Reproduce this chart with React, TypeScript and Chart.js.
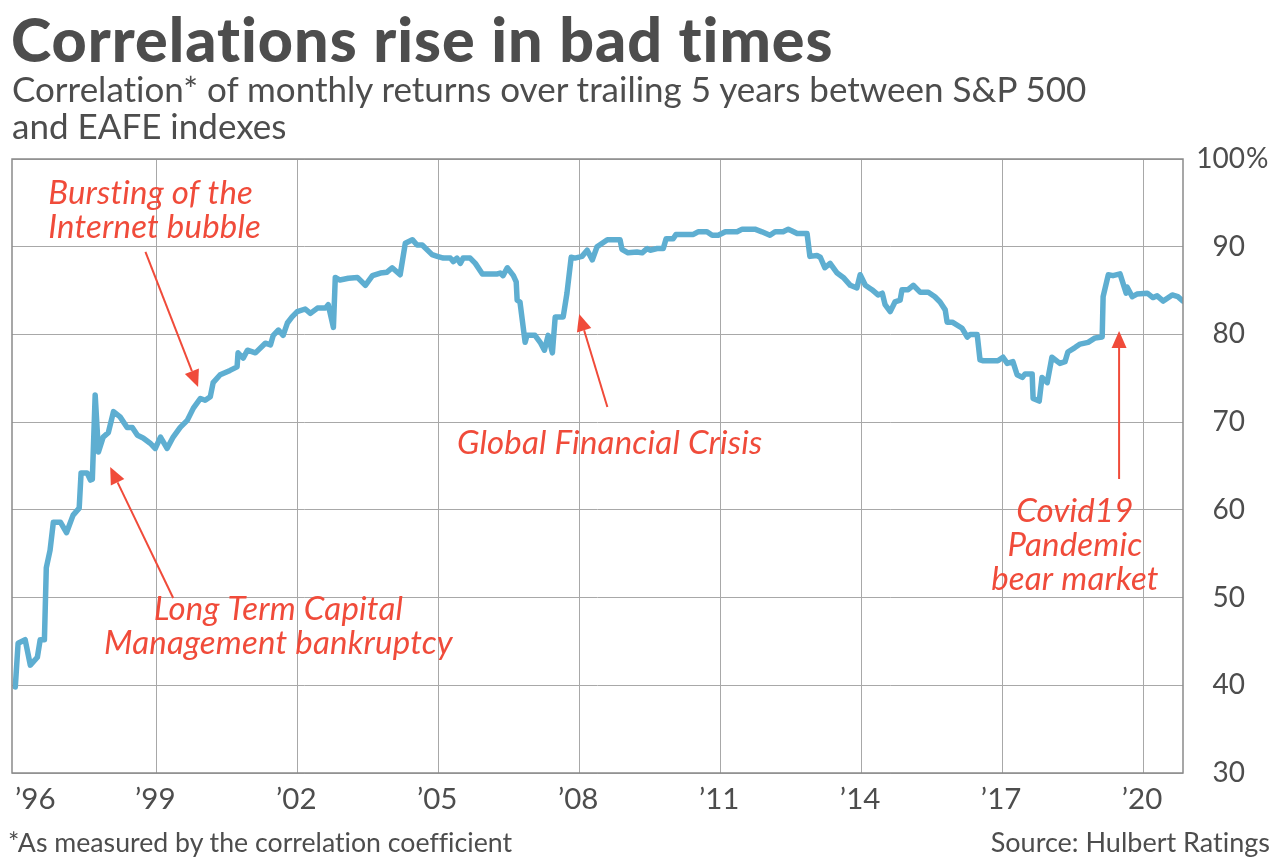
import React, { useEffect, useRef } from "react";
import { Chart, registerables } from "chart.js";
Chart.register(...registerables);

// ---- Data (decimal year, correlation in %) ----
const years = [
  1996.0, 1996.06, 1996.21, 1996.32, 1996.47, 1996.53, 1996.62, 1996.66, 1996.74, 1996.81,
  1996.96, 1997.09, 1997.23, 1997.36, 1997.4, 1997.53, 1997.6, 1997.64, 1997.7, 1997.77,
  1997.87, 1997.98, 1998.09, 1998.23, 1998.38, 1998.49, 1998.6, 1998.72, 1998.87, 1998.98,
  1999.09, 1999.23, 1999.36, 1999.51, 1999.66, 1999.79, 1999.94, 2000.04, 2000.15, 2000.21,
  2000.36, 2000.57, 2000.72, 2000.74, 2000.85, 2000.94, 2001.11, 2001.32, 2001.43, 2001.49,
  2001.6, 2001.7, 2001.79, 2001.89, 2002.0, 2002.17, 2002.28, 2002.43, 2002.6, 2002.66,
  2002.77, 2002.81, 2002.91, 2003.09, 2003.28, 2003.45, 2003.6, 2003.77, 2003.91, 2004.02,
  2004.19, 2004.3, 2004.45, 2004.55, 2004.66, 2004.87, 2004.98, 2005.11, 2005.26, 2005.32,
  2005.4, 2005.47, 2005.53, 2005.68, 2005.79, 2005.94, 2006.26, 2006.32, 2006.38, 2006.47,
  2006.6, 2006.66, 2006.68, 2006.74, 2006.85, 2006.89, 2007.06, 2007.17, 2007.26, 2007.34,
  2007.43, 2007.49, 2007.66, 2007.74, 2007.83, 2007.91, 2008.06, 2008.17, 2008.28, 2008.38,
  2008.49, 2008.6, 2008.87, 2008.91, 2009.04, 2009.23, 2009.34, 2009.45, 2009.51, 2009.66,
  2009.79, 2009.85, 2010.0, 2010.06, 2010.43, 2010.53, 2010.72, 2010.83, 2010.96, 2011.11,
  2011.36, 2011.47, 2011.74, 2011.89, 2012.06, 2012.17, 2012.34, 2012.45, 2012.53, 2012.64,
  2012.85, 2012.91, 2013.06, 2013.13, 2013.23, 2013.34, 2013.49, 2013.62, 2013.77, 2013.91,
  2013.98, 2014.09, 2014.23, 2014.36, 2014.45, 2014.51, 2014.62, 2014.72, 2014.83, 2014.87,
  2015.0, 2015.11, 2015.26, 2015.43, 2015.57, 2015.68, 2015.79, 2015.83, 2015.94, 2016.15,
  2016.26, 2016.32, 2016.47, 2016.53, 2016.6, 2016.91, 2017.02, 2017.11, 2017.23, 2017.32,
  2017.43, 2017.49, 2017.64, 2017.66, 2017.79, 2017.85, 2017.96, 2018.06, 2018.23, 2018.34,
  2018.4, 2018.55, 2018.66, 2018.83, 2018.98, 2019.13, 2019.15, 2019.26, 2019.36, 2019.51,
  2019.64, 2019.66, 2019.77, 2019.87, 2020.09, 2020.21, 2020.3, 2020.43, 2020.62, 2020.74,
  2020.85,
];

const correlation = [
  39.8, 44.8, 45.2, 42.3, 43.2, 45.2, 45.2, 53.4, 55.4, 58.6,
  58.6, 57.4, 59.4, 60.2, 64.2, 64.2, 63.4, 63.5, 73.1, 66.6,
  68.3, 68.8, 71.2, 70.6, 69.4, 69.4, 68.5, 68.2, 67.6, 67.0,
  68.3, 67.0, 68.3, 69.4, 70.2, 71.6, 72.7, 72.5, 72.9, 74.5,
  75.4, 75.9, 76.3, 77.9, 77.3, 78.2, 77.9, 79.0, 78.8, 79.9,
  80.5, 79.9, 81.3, 82.0, 82.6, 82.9, 82.4, 83.0, 83.0, 83.4,
  80.8, 86.5, 86.2, 86.4, 86.5, 85.6, 86.7, 87.0, 87.1, 87.6,
  86.8, 90.4, 90.8, 90.2, 90.2, 89.1, 88.9, 88.7, 88.7, 88.3,
  88.7, 88.1, 88.7, 88.7, 88.1, 86.9, 86.9, 87.0, 86.7, 87.6,
  86.7, 86.0, 83.9, 83.7, 79.1, 79.9, 79.9, 79.1, 78.2, 79.9,
  77.9, 82.0, 82.0, 84.7, 88.8, 88.7, 88.9, 89.6, 88.5, 90.0,
  90.4, 90.8, 90.8, 89.7, 89.3, 89.4, 89.3, 89.8, 89.6, 89.8,
  89.8, 90.9, 90.9, 91.4, 91.4, 91.7, 91.7, 91.3, 91.3, 91.7,
  91.7, 92.0, 92.0, 91.7, 91.3, 91.7, 91.7, 92.0, 91.8, 91.5,
  91.5, 88.9, 89.0, 88.8, 87.6, 88.1, 87.0, 86.5, 85.6, 85.3,
  86.8, 85.6, 85.1, 84.5, 84.7, 83.4, 82.6, 83.7, 83.9, 85.1,
  85.1, 85.6, 84.8, 84.8, 84.3, 83.7, 82.8, 81.4, 81.4, 80.7,
  79.7, 80.0, 80.0, 77.1, 77.0, 77.0, 77.4, 76.7, 76.9, 75.4,
  75.1, 75.5, 75.5, 72.7, 72.4, 75.1, 74.5, 77.4, 76.7, 76.9,
  78.0, 78.5, 78.9, 79.1, 79.6, 79.7, 84.3, 86.8, 86.7, 86.9,
  84.7, 85.4, 84.3, 84.6, 84.7, 84.2, 84.4, 83.8, 84.5, 84.3,
  83.8,
];

const xTickYears = [1996, 1999, 2002, 2005, 2008, 2011, 2014, 2017, 2020];
const xTickLabels = ["\u201996", "\u201999", "\u201902", "\u201905", "\u201908", "\u201911", "\u201914", "\u201917", "\u201920"];
const yTickValues = [30, 40, 50, 60, 70, 80, 90, 100];
const yTickLabels = ["30", "40", "50", "60", "70", "80", "90", "100"];

// Annotations in data coordinates
const annotationTexts = [
  ["Bursting of the", "Internet bubble"],
  ["Long Term Capital", "Management bankruptcy"],
  ["Global Financial Crisis"],
  ["Covid19", "Pandemic", "bear market"],
];
const annotationAnchors = [
  { x: 1996.7, y: 94.87, align: "left" },
  { x: 2001.6, y: 47.44, align: "center" },
  { x: 2008.65, y: 66.37, align: "center" },
  { x: 2018.55, y: 58.61, align: "center" },
];
const arrowFrom = [
  [1998.77, 89.4],
  [1999.36, 49.95],
  [2008.6, 71.72],
  [2019.49, 63.52],
];
const arrowTo = [
  [1999.89, 74.0],
  [1998.02, 64.88],
  [2008.0, 82.33],
  [2019.49, 80.39],
];

const TEXT = "#4d4d4d";
const RED = "#f04b3a";
const LINE = "#5eaed1";
const GRID = "#a8a8a8";
const FRAME = "#8a8a8a";

const overlayPlugin = {
  id: "overlay",
  afterDraw(chart: any) {
    const { ctx, chartArea } = chart;
    const xs = chart.scales.x;
    const ys = chart.scales.y;
    ctx.save();
    // frame
    ctx.strokeStyle = FRAME;
    ctx.lineWidth = 1.5;
    ctx.strokeRect(chartArea.left, chartArea.top, chartArea.right - chartArea.left, chartArea.bottom - chartArea.top);

    // y labels
    ctx.fillStyle = TEXT;
    ctx.font = "28px Lato";
    ctx.textBaseline = "middle";
    yTickValues.forEach((v, i) => {
      const py = ys.getPixelForValue(v);
      ctx.textAlign = "right";
      ctx.fillText(yTickLabels[i], 1245, py);
      if (v === 100) {
        ctx.textAlign = "left";
        ctx.fillText("%", 1246, py);
      }
    });

    // x labels
    ctx.font = "29.5px Lato";
    ctx.textBaseline = "alphabetic";
    xTickYears.forEach((v, i) => {
      const px = xs.getPixelForValue(v);
      if (i === 0) {
        ctx.textAlign = "left";
        ctx.fillText(xTickLabels[i], 15, 809);
      } else {
        ctx.textAlign = "center";
        ctx.fillText(xTickLabels[i], px - 1, 809);
      }
    });

    // annotations
    ctx.fillStyle = RED;
    ctx.strokeStyle = RED;
    ctx.font = "italic 33px Lato";
    try {
      (ctx as any).letterSpacing = "0.2px";
    } catch (e) {}
    annotationTexts.forEach((lines, i) => {
      const a = annotationAnchors[i];
      const px = xs.getPixelForValue(a.x);
      const py = ys.getPixelForValue(a.y);
      ctx.textAlign = a.align as CanvasTextAlign;
      lines.forEach((t, j) => ctx.fillText(t, px, py + j * 34));

      const x1 = xs.getPixelForValue(arrowFrom[i][0]);
      const y1 = ys.getPixelForValue(arrowFrom[i][1]);
      const x2 = xs.getPixelForValue(arrowTo[i][0]);
      const y2 = ys.getPixelForValue(arrowTo[i][1]);
      const ang = Math.atan2(y2 - y1, x2 - x1);
      const headLen = 17;
      const headHalf = 7.5;
      const bx = x2 - headLen * Math.cos(ang);
      const by = y2 - headLen * Math.sin(ang);
      ctx.lineWidth = 2;
      ctx.beginPath();
      ctx.moveTo(x1, y1);
      ctx.lineTo(bx, by);
      ctx.stroke();
      ctx.beginPath();
      ctx.moveTo(x2, y2);
      ctx.lineTo(bx + headHalf * Math.sin(ang), by - headHalf * Math.cos(ang));
      ctx.lineTo(bx - headHalf * Math.sin(ang), by + headHalf * Math.cos(ang));
      ctx.closePath();
      ctx.fill();
    });
    ctx.restore();
  },
};

export default function App() {
  const ref = useRef<HTMLCanvasElement | null>(null);
  useEffect(() => {
    document.body.style.margin = "0";
    if (!ref.current) return;
    const chart = new Chart(ref.current, {
      type: "line",
      data: {
        datasets: [
          {
            data: years.map((y, i) => ({ x: y, y: correlation[i] })),
            borderColor: LINE,
            borderWidth: 5.5,
            pointRadius: 0,
            tension: 0,
            borderJoinStyle: "round",
            borderCapStyle: "round",
            fill: false,
          },
        ],
      },
      options: {
        responsive: false,
        animation: false,
        events: [],
        layout: { padding: { left: 12, right: 97, top: 159, bottom: 89 } },
        plugins: { legend: { display: false }, tooltip: { enabled: false }, title: { display: false } },
        scales: {
          x: {
            type: "linear",
            min: 1995.93,
            max: 2020.85,
            afterBuildTicks: (s: any) => {
              s.ticks = xTickYears.map((v) => ({ value: v }));
            },
            ticks: { display: false },
            grid: {
              drawTicks: false,
              color: (c: any) => (c.tick && c.tick.value === 1996 ? "rgba(0,0,0,0)" : GRID),
              lineWidth: 1,
            },
            border: { display: false },
          },
          y: {
            position: "right",
            min: 30,
            max: 100,
            afterBuildTicks: (s: any) => {
              s.ticks = yTickValues.map((v) => ({ value: v }));
            },
            ticks: { display: false },
            grid: { drawTicks: false, color: GRID, lineWidth: 1 },
            border: { display: false },
          },
        },
      },
      plugins: [overlayPlugin],
    } as any);
    return () => chart.destroy();
  }, []);

  return (
    <div style={{ position: "absolute", left: 0, top: 0, width: 1280, height: 862, background: "#fff", fontFamily: "Lato, sans-serif", color: TEXT, fontVariantLigatures: "none" }}>
      <canvas ref={ref} width={1280} height={862} style={{ position: "absolute", left: 0, top: 0 }} />
      <div style={{ position: "absolute", left: 11, top: 2, fontSize: 61, fontWeight: 900, lineHeight: "73px", whiteSpace: "nowrap", letterSpacing: "1px" }}>
        Correlations rise in bad times
      </div>
      <div style={{ position: "absolute", left: 12, top: 70, fontSize: 35, lineHeight: "37px", width: 1200 }}>
        Correlation* of monthly returns over trailing 5 years between S&amp;P 500
        <br />
        and EAFE indexes
      </div>
      <div style={{ position: "absolute", left: 8, top: 826, fontSize: 26.7, lineHeight: "32px", whiteSpace: "nowrap" }}>
        *As measured by the correlation coefficient
      </div>
      <div style={{ position: "absolute", right: 10, top: 826, fontSize: 27, lineHeight: "32px", whiteSpace: "nowrap" }}>
        Source: Hulbert Ratings
      </div>
    </div>
  );
}
